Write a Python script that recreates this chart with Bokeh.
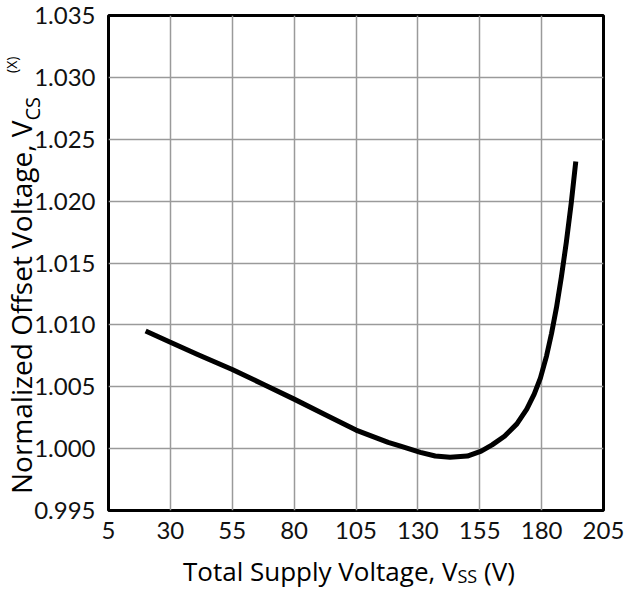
from bokeh.plotting import figure
from bokeh.models import Range1d, FixedTicker, Div
from bokeh.layouts import column
from bokeh.embed import file_html
from bokeh.resources import INLINE

# ---- data ----
vss = [20, 30, 41, 55, 67.5, 80, 93, 105, 118, 123, 131, 137, 143, 150, 155.6, 160, 165,
       170, 174, 177, 179.5, 182, 184, 186, 188, 190, 192, 193.8]
vcs = [1.0095, 1.0086, 1.0076, 1.0064, 1.0052, 1.0040, 1.0027, 1.0015, 1.0005, 1.0002,
       0.9997, 0.9994, 0.9993, 0.9994, 0.9998, 1.0003, 1.0010, 1.0020, 1.0032, 1.0044,
       1.0057, 1.0075, 1.0093, 1.0114, 1.0139, 1.0167, 1.0199, 1.0232]
x_ticks = [5, 30, 55, 80, 105, 130, 155, 180, 205]
y_ticks = [0.995, 1.000, 1.005, 1.010, 1.015, 1.020, 1.025, 1.030, 1.035]

x_title = "Total Supply Voltage, V"
x_title_sub = "SS"
x_title_end = " (V)"
y_title = "Normalized Offset Voltage, V"
y_title_sub = "CS"
y_title_sup = "(X)"

W, H = 628, 592
TICK_FONT = "Lato"
TITLE_FONT = "Open Sans"

p = figure(width=W, height=H, output_backend="svg", toolbar_location=None,
           x_range=Range1d(5, 205), y_range=Range1d(0.995, 1.035),
           min_border_left=108, min_border_right=25, min_border_top=15, min_border_bottom=82)
p.background_fill_color = "white"
p.border_fill_color = "white"
p.outline_line_color = "black"
p.outline_line_width = 3

for ax in (p.xaxis, p.yaxis):
    ax.axis_line_color = None
    ax.major_tick_line_color = None
    ax.minor_tick_line_color = None
    ax.major_label_text_font = TICK_FONT
    ax.major_label_text_font_size = "24px"
    ax.major_label_text_color = "#111111"

p.xaxis.ticker = FixedTicker(ticks=x_ticks)
p.yaxis.ticker = FixedTicker(ticks=y_ticks)
p.yaxis.major_label_overrides = {t: f"{t:.3f}" for t in y_ticks}
p.xaxis.major_label_overrides = {t: str(t) for t in x_ticks}
p.xaxis.major_label_standoff = 5
p.yaxis.major_label_standoff = 7

p.xgrid.ticker = FixedTicker(ticks=x_ticks)
p.ygrid.ticker = FixedTicker(ticks=y_ticks)
p.grid.grid_line_color = "#9a9a9a"
p.grid.grid_line_width = 1.5

p.line(vss, vcs, line_color="black", line_width=5, line_join="round", line_cap="butt")

# axis titles with sub/superscripts as an HTML overlay
html = (
    f'<div style="position:absolute; left:183px; top:558px; font-family:\'{TITLE_FONT}\'; '
    'font-size:26px; line-height:26px; white-space:nowrap; color:#000;">'
    f'{x_title}<span style="font-size:18px; position:relative; top:2px;">{x_title_sub}</span>'
    f'{x_title_end}</div>'
    f'<div style="position:absolute; left:7px; top:494px; transform-origin:0 0; '
    f'transform:rotate(-90deg); font-family:\'{TITLE_FONT}\'; font-size:28px; line-height:28px; '
    'white-space:nowrap; color:#000;">'
    f'{y_title}<span style="font-size:20px; position:relative; top:8px;">{y_title_sub}</span>'
    f'<span style="font-size:14px; position:relative; top:-15px; margin-left:24px;">{y_title_sup}</span>'
    '</div>'
)
overlay = Div(text=html, width=W, height=H, margin=(0, 0, 0, 0),
              styles={"position": "absolute", "left": "0px", "top": "0px",
                      "pointer-events": "none", "z-index": "10"})

layout = column(p, overlay)
open("out.html", "w").write(file_html(layout, INLINE))
